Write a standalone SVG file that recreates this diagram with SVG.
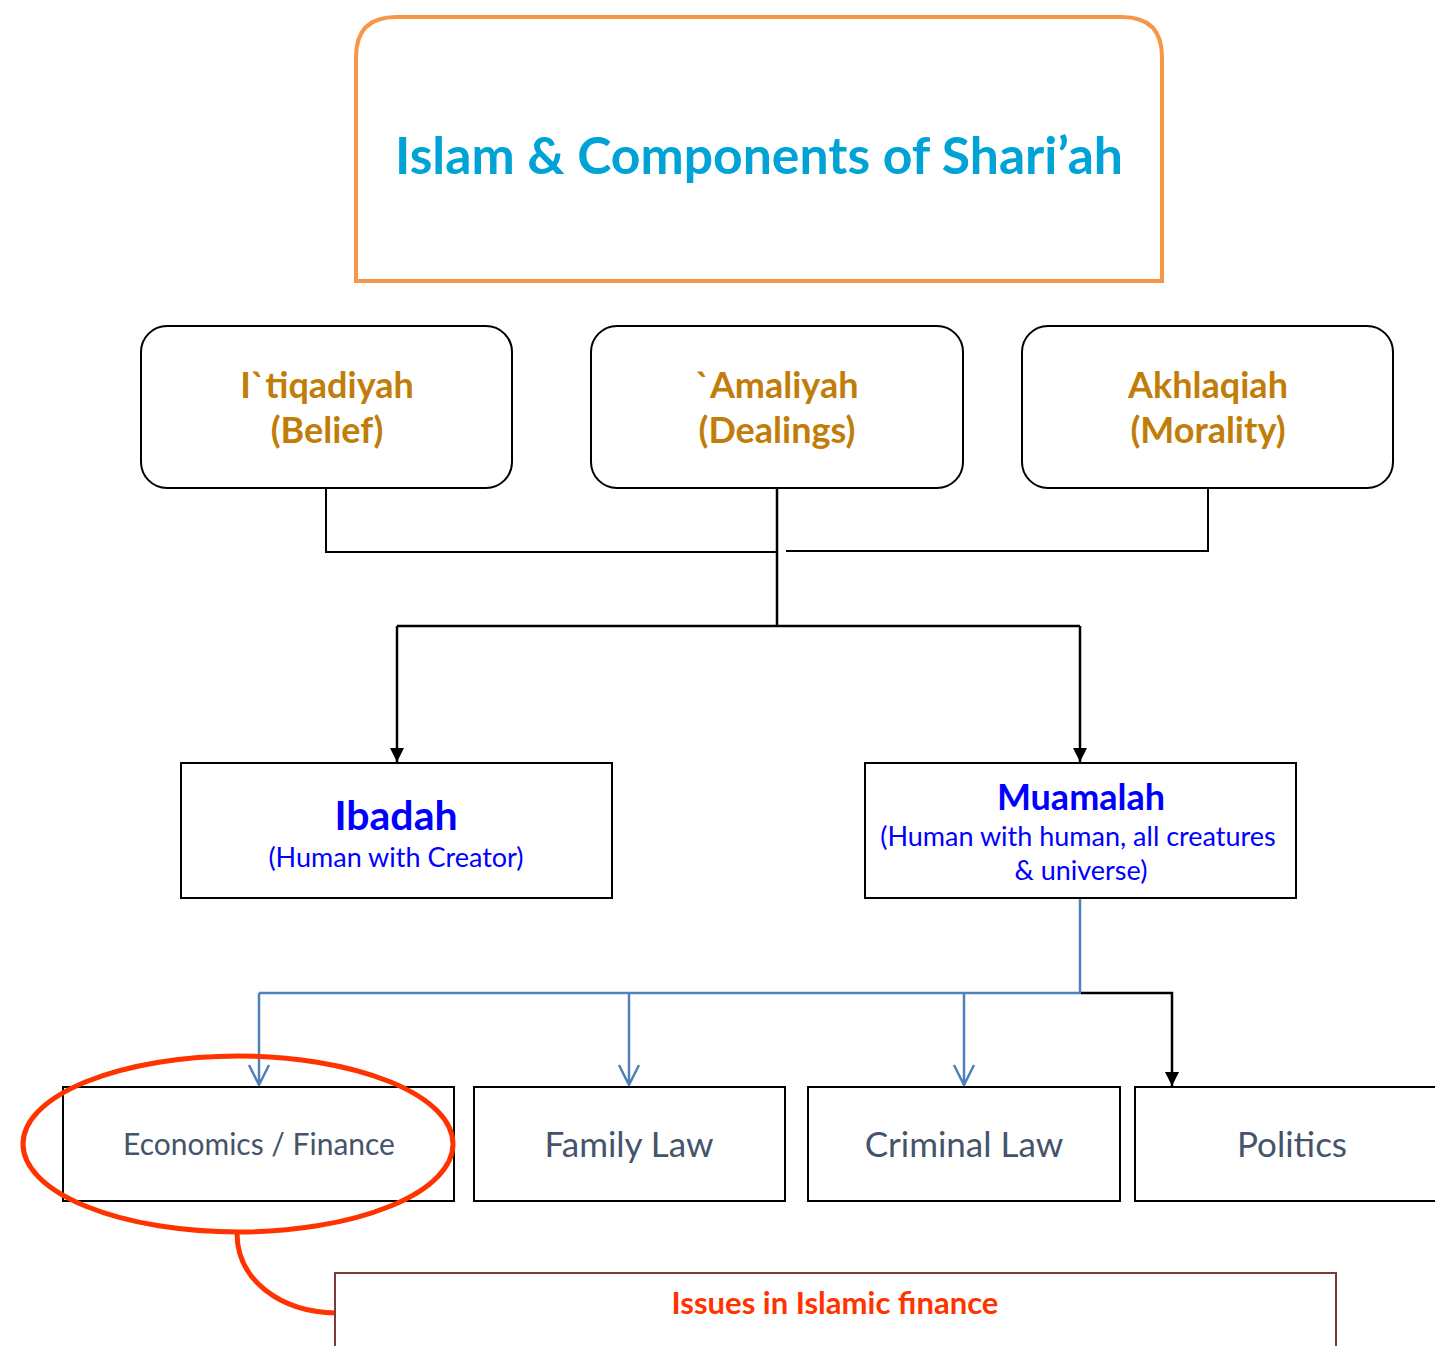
<svg xmlns="http://www.w3.org/2000/svg" width="1435" height="1346" viewBox="0 0 1435 1346">
  <defs>
    <marker id="arrowFilled" markerWidth="16" markerHeight="16" refX="14" refY="7" orient="auto" markerUnits="userSpaceOnUse" viewBox="0 0 16 14">
      <path d="M0,0 L14,7 L0,14 Z" fill="#000"/>
    </marker>
    <style>
      .cat { fill: #fff; stroke: #000; stroke-width: 2; }
      .catText { font-family: Lato, "Liberation Sans", sans-serif; font-weight: 700; font-size: 36px; fill: #C17D09; text-anchor: middle; }
      .box { fill: #fff; stroke: #000; stroke-width: 2; }
      .blueHead { font-family: Lato, "Liberation Sans", sans-serif; font-weight: 700; fill: #0000FF; text-anchor: middle; }
      .blueSub { font-family: Lato, "Liberation Sans", sans-serif; font-size: 27px; fill: #0000FF; text-anchor: middle; }
      .field { font-family: Lato, "Liberation Sans", sans-serif; font-size: 35px; fill: #44546A; text-anchor: middle; }
      .blk { fill: none; stroke: #000; stroke-width: 2.5; }
      .blu { fill: none; stroke: #4F81BD; stroke-width: 2.5; }
    </style>
  </defs>

  <rect width="1435" height="1346" fill="#fff"/>

  <!-- Title -->
  <g id="title">
    <path d="M356,281 L356,57 Q356,17 396,17 L1122,17 Q1162,17 1162,57 L1162,281 Z" fill="#fff" stroke="#F79646" stroke-width="4"/>
    <text x="759" y="174" font-family="Lato, 'Liberation Sans', sans-serif" font-weight="700" font-size="52" fill="#00A3D6" text-anchor="middle" textLength="728" lengthAdjust="spacingAndGlyphs">Islam &amp; Components of Shari’ah</text>
  </g>

  <!-- Three components -->
  <g id="itiqadiyah">
    <rect class="cat" x="141" y="326" width="371" height="162" rx="26"/>
    <text class="catText" x="327" y="398">I`tiqadiyah</text>
    <text class="catText" x="327" y="443">(Belief)</text>
  </g>
  <g id="amaliyah">
    <rect class="cat" x="591" y="326" width="372" height="162" rx="26"/>
    <text class="catText" x="777" y="398">`Amaliyah</text>
    <text class="catText" x="777" y="443">(Dealings)</text>
  </g>
  <g id="akhlaqiah">
    <rect class="cat" x="1022" y="326" width="371" height="162" rx="26"/>
    <text class="catText" x="1208" y="398">Akhlaqiah</text>
    <text class="catText" x="1208" y="443">(Morality)</text>
  </g>

  <!-- Connectors -->
  <g id="connectors">
    <path d="M326,489 L326,552 L776,552" fill="none" stroke="#000" stroke-width="2"/>
    <path d="M1208,489 L1208,551 L786,551" fill="none" stroke="#000" stroke-width="2"/>
    <path d="M777,489 L777,626" class="blk" stroke-width="3"/>
    <path d="M397,626 L1080,626" class="blk"/>
    <path d="M397,626 L397,762" class="blk" marker-end="url(#arrowFilled)"/>
    <path d="M1080,626 L1080,762" class="blk" marker-end="url(#arrowFilled)"/>

    <path d="M1080,898 L1080,993 L259,993" class="blu"/>
    <path d="M259,993 L259,1085 M249,1065 L259,1085 L269,1065" class="blu"/>
    <path d="M629,993 L629,1085 M619,1065 L629,1085 L639,1065" class="blu"/>
    <path d="M964,993 L964,1085 M954,1065 L964,1085 L974,1065" class="blu"/>
    <path d="M1081,993 L1172,993 L1172,1086" class="blk" marker-end="url(#arrowFilled)"/>

    <path d="M237,1233 C237,1280 280,1312 336,1313" fill="none" stroke="#FF3300" stroke-width="5"/>
  </g>

  <!-- Ibadah / Muamalah -->
  <g id="ibadah">
    <rect class="box" x="181" y="763" width="431" height="135"/>
    <text class="blueHead" x="396" y="830" font-size="41">Ibadah</text>
    <text class="blueSub" x="396" y="867">(Human with Creator)</text>
  </g>
  <g id="muamalah">
    <rect class="box" x="865" y="763" width="431" height="135"/>
    <text class="blueHead" x="1081" y="810" font-size="36">Muamalah</text>
    <text class="blueSub" x="1078" y="846">(Human with human, all creatures</text>
    <text class="blueSub" x="1081" y="880">&amp; universe)</text>
  </g>

  <!-- Fields of Muamalah -->
  <g id="economics">
    <rect class="box" x="63" y="1087" width="391" height="114"/>
    <text class="field" x="259" y="1155" style="font-size:30px">Economics / Finance</text>
  </g>
  <g id="familyLaw">
    <rect class="box" x="474" y="1087" width="311" height="114"/>
    <text class="field" x="629" y="1157">Family Law</text>
  </g>
  <g id="criminalLaw">
    <rect class="box" x="808" y="1087" width="312" height="114"/>
    <text class="field" x="964" y="1157">Criminal Law</text>
  </g>
  <g id="politics">
    <rect class="box" x="1135" y="1087" width="320" height="114"/>
    <text class="field" x="1292" y="1157">Politics</text>
  </g>

  <!-- Highlight -->
  <g id="highlight">
    <ellipse cx="238" cy="1144" rx="215" ry="88" fill="none" stroke="#FF3300" stroke-width="5"/>
  </g>

  <!-- Issues -->
  <g id="issues">
    <rect x="335" y="1273" width="1001" height="100" fill="#fff" stroke="#7A3B3B" stroke-width="2"/>
    <text x="835" y="1314" font-family="Lato, 'Liberation Sans', sans-serif" font-weight="700" font-size="31" fill="#FF3300" text-anchor="middle">Issues in Islamic finance</text>
  </g>
</svg>
